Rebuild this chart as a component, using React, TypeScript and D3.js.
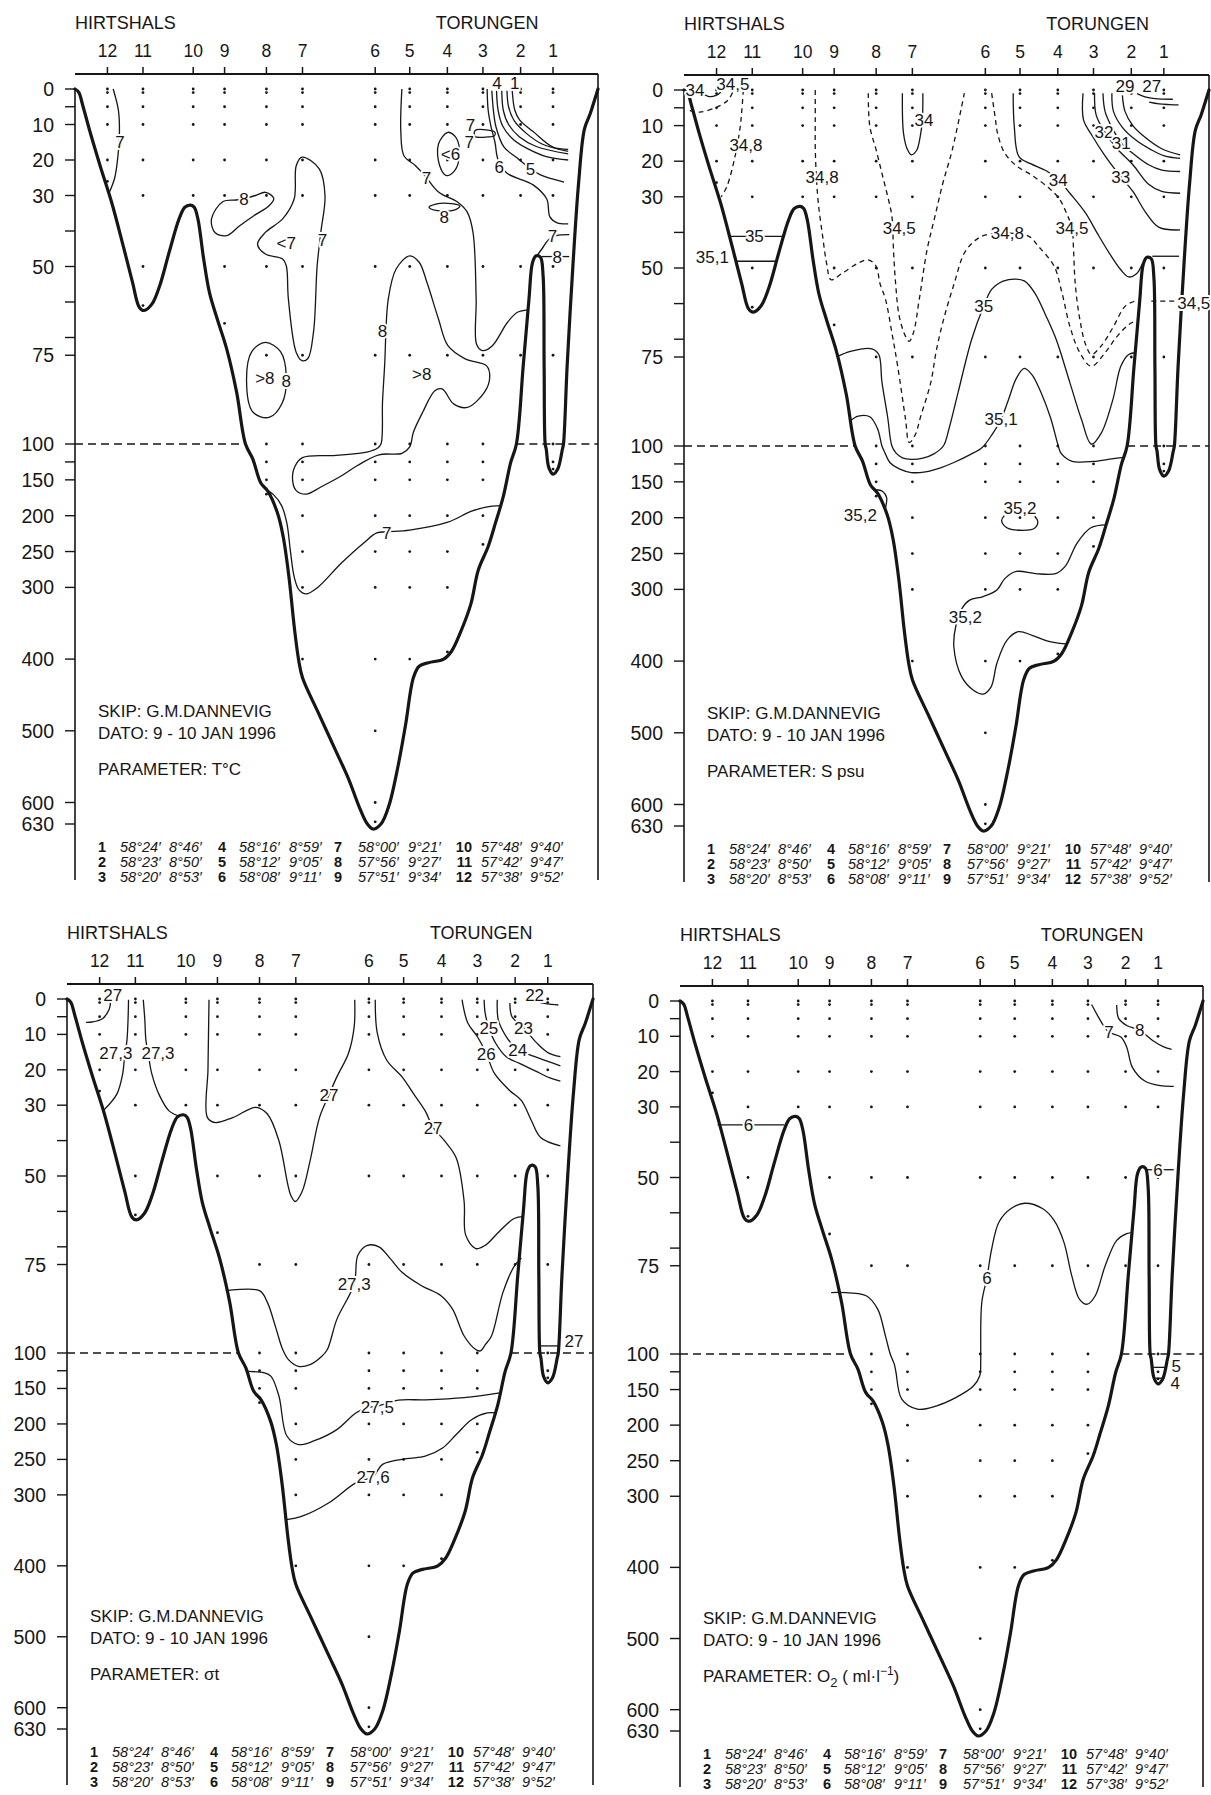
import React from "react";
import * as d3 from "d3";

type P = [number, number];
type Lbl = [string, number, number];
interface Contour { pts: P[]; dash?: boolean; closed?: boolean; labels?: Lbl[] }

// ---------- stations ----------
const stationNames = ["1", "2", "3", "4", "5", "6", "7", "8", "9", "10", "11", "12"];
const stationDist = [91.4, 85.2, 78.0, 71.2, 64.0, 57.4, 43.5, 36.6, 28.6, 22.6, 13.0, 6.2];
const stationDepths: number[][] = [
  [0, 1, 5, 10, 20, 30, 50, 75, 100, 125, 135],
  [0, 1, 5, 10, 20, 30, 50, 75],
  [0, 1, 5, 10, 20, 30, 50, 75, 100, 125, 150, 200, 240],
  [0, 1, 5, 10, 20, 30, 50, 75, 100, 125, 150, 200, 250, 300, 390],
  [0, 1, 5, 10, 20, 30, 50, 75, 100, 125, 150, 200, 250, 300, 400],
  [0, 1, 5, 10, 20, 30, 50, 75, 100, 125, 150, 200, 250, 300, 400, 500, 600, 627],
  [0, 1, 5, 10, 20, 30, 50, 75, 100, 125, 150, 200, 250, 300, 400],
  [0, 1, 5, 10, 20, 30, 50, 75, 100, 125, 150, 170],
  [0, 1, 5, 10, 20, 30, 50, 66],
  [0, 1, 5, 10, 20, 30],
  [0, 1, 5, 10, 20, 30, 50, 61],
  [0, 1, 5, 10, 20, 26],
];
const stationLat = ["58°24′", "58°23′", "58°20′", "58°16′", "58°12′", "58°08′", "58°00′", "57°56′", "57°51′", "57°48′", "57°42′", "57°38′"];
const stationLon = ["8°46′", "8°50′", "8°53′", "8°59′", "9°05′", "9°11′", "9°21′", "9°27′", "9°34′", "9°40′", "9°47′", "9°52′"];

const depthLabels = [0, 10, 20, 30, 50, 75, 100, 150, 200, 250, 300, 400, 500, 600, 630];
const depthMinor = [5, 40, 60, 70, 125];

// ---------- bottom profile (distance 0-100, depth m) ----------
const bathymetry: P[] = [
  [0, 0], [0.7, 0.9], [1.5, 4.7], [2.9, 12.2], [4.8, 21.6], [7, 31.9], [9.2, 44.1], [11, 54.5], [12.3, 61.5],
  [13.2, 62.4], [14.7, 60.6], [16.2, 55.4], [18, 46], [19.9, 36.6], [21, 33.3], [22.1, 32.7], [22.8, 33.3],
  [23.5, 36.6], [24.6, 47.9], [25.7, 57.3], [27.2, 64.8], [29, 73.2], [30.9, 85.4], [32.6, 100], [34, 121],
  [35.5, 154], [36.9, 166], [38.7, 196], [39.8, 229], [40.9, 285], [42, 360], [42.8, 403], [43.5, 426],
  [46.4, 473], [50, 530], [52.3, 567], [54.5, 609], [55.9, 630], [57, 637], [58.5, 630], [60, 605],
  [61.8, 548], [63.2, 492], [64.7, 426], [65.8, 410], [67.6, 405], [70.5, 400], [72, 389], [73.8, 361],
  [75.7, 323], [77.1, 276], [79, 243], [80.4, 210], [81.9, 173], [83.3, 126], [84.4, 100], [85.7, 78],
  [86.8, 59.2], [87.5, 48.8], [88.2, 47], [89, 47.4], [89.5, 52.6], [89.7, 78], [89.9, 100], [90.1, 107],
  [90.6, 133], [91.4, 142], [92.3, 135], [93.2, 107], [93.4, 100], [94.1, 78], [95.2, 49.8], [96.3, 26.3],
  [97.4, 11.3], [98.5, 7], [99.6, 1.9], [100, 0],
];

// ---------- temperature (°C) ----------
const tempLines: Contour[] = [
  { pts: [[7.3, 0], [8.3, 6], [8.5, 12], [8.2, 19], [7.6, 25], [6.6, 29]], labels: [["7", 8.6, 15]] },
  { closed: true, pts: [[26.1, 36.6], [28.3, 31.7], [31.2, 31.2], [34.5, 30], [36.4, 29.1], [38, 30.8], [37.1, 32.9], [34.2, 35.7], [31.5, 38.5], [29, 41.3], [26.8, 40.5]], labels: [["8", 32.3, 31]] },
  { closed: true, pts: [[43.4, 19.2], [46.7, 22.5], [47.8, 30], [47, 40.4], [46.3, 49.8], [45.6, 68.5], [44.5, 76], [43.4, 76.5], [42.3, 74.2], [40.8, 59.2], [40.4, 49.8], [39.7, 47.9], [36.4, 46.5], [34.9, 43.7], [36.4, 40.4], [39.7, 36.6], [41.9, 31], [42.3, 21.6]], labels: [["7", 47.3, 42.5], ["<7", 40.4, 43.4]] },
  { closed: true, pts: [[36.4, 71.4], [39.3, 74], [40.4, 81], [39.6, 88.5], [37.1, 92.5], [34, 91], [32.8, 82], [33.8, 74]], labels: [[">8", 36.3, 81.4], ["8", 40.4, 82.2]] },
  { pts: [[62.5, 0], [62.3, 12], [62.9, 18.8], [65.1, 21.6], [66.9, 24.4], [69.5, 29], [73.2, 31.9], [75, 34.7], [76.1, 40.4], [76.7, 59], [76.8, 72], [77.9, 73.7], [79.8, 72.3], [82.7, 65.7], [84.6, 62.9], [86.6, 62.2]], labels: [["7", 67.2, 25]] },
  { closed: true, pts: [[58.5, 100], [58.8, 88], [59.2, 78], [59.9, 59.2], [61.4, 50.7], [64, 47], [65.8, 48.8], [67.3, 54.5], [69.5, 64.8], [71.3, 72.3], [74.6, 76], [78.7, 78], [79.3, 81.2], [78.3, 85.4], [75, 89.7], [72.4, 88.7], [70.2, 84.5], [68.8, 85], [66.5, 91], [64.7, 96.7], [64, 104], [62.5, 113], [58.1, 115], [54, 130], [50.8, 145], [47, 160], [44.2, 170], [42.3, 165], [41.6, 150], [42, 132], [43.5, 119], [50, 116], [56, 111], [57.8, 106]], labels: [["8", 58.8, 68], [">8", 66.3, 80.3]] },
  { closed: true, pts: [[67.7, 33.3], [69, 32.4], [72, 32.3], [73.6, 33], [72.5, 34.1], [69, 34.2]], labels: [["8", 70.6, 35.9]] },
  { closed: true, pts: [[71.3, 12.2], [72.9, 13.8], [73.5, 18.5], [72.6, 23], [71, 24.4], [69.7, 21.5], [69.5, 15.5]], labels: [["<6", 71.8, 18.3]] },
  { closed: true, pts: [[76.5, 11.7], [79, 11.6], [80.3, 12.2], [80.2, 13.2], [79, 13.5], [76.5, 13.4]], labels: [["7", 75.6, 10.2], ["7", 75.4, 14.8]] },
  { pts: [[78.8, 0], [79, 6], [79.5, 10.3], [80.3, 15], [80.9, 20], [82.6, 23.7], [87.6, 27], [90.2, 31], [90.8, 36], [92.2, 37.7], [94.3, 38]], labels: [["6", 81.1, 21.8]] },
  { pts: [[79.7, 0.5], [80, 6], [80.5, 10.7], [82, 16.3], [84.5, 19.4], [87, 22.3], [89, 24.2], [93.5, 26.2]], labels: [["5", 87.1, 22.4]] },
  { pts: [[80.6, 0.5], [80.9, 6], [81.8, 10.5], [83.8, 14.2], [86.8, 17], [90.5, 19.2], [94.3, 20]], labels: [["4", 80.7, -1.8]] },
  { pts: [[81.6, 0.5], [81.9, 6], [82.9, 10], [85, 13.5], [88.2, 16.2], [94.3, 18.3]] },
  { pts: [[82.6, 0.5], [82.9, 5], [84, 9], [86.3, 12.5], [89.3, 15.5], [94.3, 17.6]] },
  { pts: [[83.6, 0.5], [84.1, 6], [85, 8.7], [87.6, 12], [91.4, 16.4], [94.3, 17]], labels: [["1", 84.1, -1.8]] },
  { pts: [[88.3, 47], [89.3, 45], [90.5, 42.5], [92, 41.3], [94.5, 41]], labels: [["7", 91.3, 41.4]] },
  { pts: [[89.2, 47.2], [94.5, 47.2]], labels: [["8", 92.2, 47.2]] },
  { pts: [[36.6, 164], [38, 171], [39.5, 186], [40.5, 210], [41.2, 250], [41.9, 285], [42.8, 303], [44.2, 309], [46.4, 300], [50.8, 267], [55.2, 238], [57.7, 224], [59.6, 222.5], [64, 220], [71.3, 209], [75.7, 194], [78.6, 188], [81.5, 186]], labels: [["7", 59.6, 224]] },
];

// ---------- salinity (psu) ----------
const salLines: Contour[] = [
  { pts: [[3.6, 1], [4.6, 1.8], [6, 1.6], [7, 0.6]], labels: [["34", 2.1, 0]] },
  { dash: true, pts: [[1.1, 5.8], [3, 6.2], [6.3, 4.8], [8.4, 2.8], [9.3, 0.5]], labels: [["34,5", 9.3, -1.6]] },
  { dash: true, pts: [[11.3, 0], [11, 6], [10.7, 10.4], [9.7, 18.8], [8.2, 27], [7.1, 30]], labels: [["34,8", 11.8, 15.5]] },
  { pts: [[8.7, 41.1], [19, 41.1]], labels: [["35", 13.4, 41.1]] },
  { pts: [[9.9, 48.1], [17.6, 48.1]], labels: [["35,1", 5.4, 46.8]] },
  { dash: true, pts: [[25, 0], [25, 8], [25, 16], [25.2, 24], [25.6, 32], [26.4, 41], [27.2, 49], [28, 53.3], [30.2, 51.4], [33.2, 48.6], [35.1, 47.7], [36.6, 49.5], [37.3, 54.2], [38.4, 58.9], [39.6, 68.2], [40.7, 77.6], [42.2, 92.5], [42.9, 99], [44, 97], [45.1, 91.6], [47, 82.2], [48.1, 72.9], [49.6, 63.6], [51.5, 54.2], [53.4, 45.8], [55.6, 42.1], [57.5, 40.7], [61.6, 40.2], [65.7, 41.1], [67.5, 43.9], [70.5, 49.5], [72, 57], [73.5, 66.4], [75.4, 73.8], [77.6, 77.6], [80.2, 73.8], [82.5, 69.2], [84.7, 65.9], [86.6, 64.5]], labels: [["34,8", 26.3, 24.3], ["34,8", 61.6, 40.2]] },
  { dash: true, pts: [[35.1, 0.9], [35.4, 10.3], [36.6, 16.8], [37.7, 23.4], [38.8, 29.9], [39.6, 35.5], [39.9, 44.9], [40.3, 54.2], [41, 63.6], [42.2, 69.2], [42.9, 70.6], [43.7, 68.2], [44.8, 58.9], [46.3, 44.9], [47.8, 35.5], [49.3, 26.2], [51.1, 16.8], [53.4, 0.9]], labels: [["34,5", 41, 38.8]] },
  { dash: true, pts: [[58.6, 0.9], [59.3, 8], [59.7, 12], [61, 17.5], [63.3, 21.3], [66.3, 24], [69.7, 27.8], [71.5, 30.6], [72.8, 34.4], [73.9, 38.8], [74.2, 45], [74.5, 54], [75.3, 63.6], [76.5, 71.5], [77.6, 74.3], [79.4, 72], [81.6, 67], [84.2, 60.5], [86.6, 59]], labels: [["34,5", 73.9, 38.8]] },
  { dash: true, pts: [[89, 59.3], [94.6, 59.3]], labels: [["34,5", 97.1, 59.8]] },
  { pts: [[41.6, 0.9], [41.8, 12], [42.5, 16.5], [43.3, 18.2], [44.3, 17], [45, 13], [45.4, 8.4], [45.5, 0.9]], labels: [["34", 45.7, 8.4]] },
  { pts: [[62.7, 0.9], [62.9, 10], [63.8, 18.7], [66, 20.7], [69, 22.7], [71.3, 25.2], [73.5, 29], [76.5, 34.6], [78.7, 40.2], [81, 45.8], [83.2, 50.5], [84.7, 52.5], [86.2, 51.6], [87.3, 48.8]], labels: [["34", 71.3, 25.2]] },
  { pts: [[89.2, 46.7], [94.3, 46.7]] },
  { pts: [[29.3, 74.8], [31.7, 73.4], [35.8, 72.7], [37.1, 74.3], [37.7, 82], [38.8, 92], [39.6, 100], [40.4, 110], [41.6, 116.5], [43.3, 118.7], [45.5, 117], [47.6, 111], [49.4, 100], [50.5, 95], [52.2, 85], [54.8, 70], [57.1, 60.7], [58.6, 56], [60.8, 53.7], [63.1, 53.1], [64.9, 53.7], [66.8, 57], [69, 63.6], [70.9, 70.1], [73.5, 82.2], [75.7, 92.5], [77.6, 99.5], [79.5, 96.3], [81.7, 86.9], [83.2, 77.6], [84.7, 74.3], [86.1, 73.8]], labels: [["35", 57.1, 60.7]] },
  { pts: [[31.6, 93], [33.2, 91.6], [35.4, 91.8], [36.9, 95.3], [37.7, 100], [38.3, 110], [39.2, 123], [41, 132], [43.3, 137], [46, 136], [49, 130], [51.4, 123], [54.5, 112], [56.8, 102], [58.8, 96.5], [60.4, 92.5], [61.8, 87], [63.3, 81], [64.8, 78.2], [66.3, 80], [68, 85], [69.8, 92], [71.3, 100], [71.8, 110], [73.8, 121], [78, 121.5], [81.5, 118], [83.8, 116]], labels: [["35,1", 60.4, 92.5]] },
  { pts: [[76, 0.9], [76.1, 8.4], [77.6, 12.5], [80.2, 18.5], [83, 24], [85.5, 28.5], [88, 34.5], [90.5, 38.6], [94.5, 39.3]], labels: [["33", 83.2, 24.3]] },
  { pts: [[78.2, 0.9], [78.5, 7], [80.1, 11.7], [82.5, 16.5], [85.5, 21], [88.5, 26.5], [91, 28.5], [94.5, 29]], labels: [["32", 80, 11.7]] },
  { pts: [[79.8, 0.9], [80.2, 6], [81.5, 10.5], [83.3, 14.9], [85.5, 17.8], [88.5, 21], [91, 22.5], [94.5, 22.9]], labels: [["31", 83.3, 14.9]] },
  { pts: [[81.5, 0.9], [81.8, 6], [83.5, 10.5], [86, 14], [89, 16.8], [91.5, 18.5], [94.5, 19.2]] },
  { pts: [[83.5, 1.5], [84, 6], [85.5, 10], [88, 13.5], [91, 16.5], [94.5, 18.2]], labels: [["29", 84, -1.2]] },
  { pts: [[88.6, 3.4], [90.5, 3.9], [92.5, 4.1], [94.2, 4.2]] },
  { pts: [[86.3, 1], [88, 2], [89.7, 2.4], [93.1, 2.6]], labels: [["27", 89.1, -1.2]] },
  { pts: [[36.6, 161], [37.8, 163], [38.6, 172], [38.5, 182], [38.3, 189]], labels: [["35,2", 33.6, 196]] },
  { pts: [[61, 197], [60.5, 204], [61.5, 214], [64, 217.5], [66.7, 215], [67.4, 206], [66.8, 198]], labels: [["35,2", 64, 187]] },
  { pts: [[80.4, 210], [77.5, 214], [74.9, 235], [72.6, 268], [70.8, 278], [67, 278], [63.3, 275], [61.1, 285], [59.6, 301], [57, 310], [54.4, 315], [52.9, 327], [51.8, 350], [51.4, 380], [52.9, 422], [55.2, 441], [57, 446], [58.5, 436], [59.6, 403], [61.5, 371], [63.7, 359], [66.3, 364], [69.3, 372], [72.7, 376]], labels: [["35,2", 53.6, 338]] },
];

// ---------- sigma-t ----------
const sigmaLines: Contour[] = [
  { pts: [[8.3, 0.2], [8, 3], [6.8, 5.5], [4.8, 6.5], [3.6, 6.6]], labels: [["27", 8.7, -1.2]] },
  { pts: [[11.7, 0.2], [11.6, 6], [11.4, 11.6], [10.9, 17], [10.6, 21], [9.5, 26.8], [7, 31.4]], labels: [["27,3", 9.3, 15.2]] },
  { pts: [[14.5, 0.2], [14.8, 6], [15, 11.6], [15.5, 16], [16.1, 21], [17.6, 27.3], [19.4, 31.6], [21.2, 33]], labels: [["27,3", 17.3, 15.2]] },
  { pts: [[27, 0.2], [26.9, 10], [26.8, 20], [26.7, 33.5], [28.2, 34.9], [31.5, 33.5], [35.9, 30.6], [38.1, 32.5], [40.3, 40.1], [42.5, 55.3], [43.4, 57.2], [44.7, 54.4], [46.2, 45.8], [48, 33.5], [49.8, 27.1], [51.3, 22], [53.5, 15.4], [54.6, 7.8], [54.7, 0.2]], labels: [["27", 49.8, 27.1]] },
  { pts: [[58.6, 0.2], [59, 9.7], [60.8, 17.3], [63.7, 22], [65.9, 26.8], [68.1, 31.6], [69.6, 36.3], [71.8, 40.1], [74, 44.9], [75.5, 57.2], [75.8, 66.7], [77.7, 70.5], [79.5, 69.6], [82.1, 65.8], [85, 62], [86.8, 61.5]], labels: [["27", 69.6, 36.3]] },
  { pts: [[75.1, 0.2], [76.2, 6.8], [78, 10.6], [79.7, 15.4], [81.3, 21.1], [84.2, 25.9], [86.4, 28.7], [88.3, 34.4], [90.1, 39.2], [93.8, 41.5]], labels: [["26", 79.7, 15.4]] },
  { pts: [[79.3, 0.2], [79.5, 4], [80.2, 8.1], [81.5, 12.5], [83.5, 16.3], [86, 18.2], [89, 20.3], [91.8, 22.3], [93.8, 23.2]], labels: [["25", 80.2, 8.1]] },
  { pts: [[81.8, 0.2], [82, 5.9], [83.5, 10.6], [85.7, 14.4], [88, 15.8], [91, 17.4], [93.8, 18.9]], labels: [["24", 85.7, 14.4]] },
  { pts: [[84.2, 1.1], [84.6, 5], [86.8, 8.1], [89.3, 12.4], [91.5, 15.2], [93.8, 16.3]], labels: [["23", 86.8, 8.1]] },
  { pts: [[89.4, 0.8], [91.3, 1.4], [93.4, 1.7]], labels: [["22", 88.9, -1.3]] },
  { pts: [[30.2, 82.4], [36.6, 82.4], [38.1, 85.7], [39.6, 92.4], [41, 99], [42.1, 109.4], [44, 118.8], [46.2, 116.4], [48.4, 105], [49.5, 99], [51.3, 90.5], [54.6, 80.5], [55.3, 72.4], [57.1, 69.6], [59.3, 70], [61.5, 73.4], [63.7, 77.2], [67.4, 81], [71.1, 83.8], [73.3, 87.6], [75.5, 95.2], [77.7, 99], [78.6, 99.4], [79.6, 97.5], [80.7, 95.2], [82.9, 82.8], [85.1, 75.3], [86.4, 73.2]], labels: [["27,3", 54.6, 80.5]] },
  { pts: [[89.9, 98], [93.5, 98]], labels: [["27", 96.4, 96.5]] },
  { pts: [[34.3, 126], [37.5, 128], [38.8, 133], [40.3, 161], [41.8, 217], [44, 229], [46.9, 224], [51.3, 208], [54.9, 184.5], [57, 177], [59, 175], [63, 166.5], [68.1, 166], [75.5, 163], [82.6, 156]], labels: [["27,5", 59, 176]] },
  { pts: [[41.7, 335], [44.7, 330], [49.8, 311], [54.9, 283], [58.2, 274], [60, 257], [64.5, 249], [68.1, 245.5], [71.4, 234], [74, 215], [76.9, 194], [79.9, 184.5], [81.6, 184.5]], labels: [["27,6", 58.2, 274]] },
];

// ---------- oxygen (ml/l) ----------
const oxyLines: Contour[] = [
  { pts: [[7.2, 35.1], [20, 35.1]], labels: [["6", 13.1, 35.1]] },
  { pts: [[78.7, 1], [79.8, 4], [81, 7], [82, 8.8], [84.3, 10.2], [85.4, 13], [86.5, 18.8], [88.8, 22.6], [91.8, 24], [94.4, 24.2]], labels: [["7", 82, 8.8]] },
  { pts: [[83.5, 1.1], [83.9, 5], [85.5, 7], [87.9, 8.3], [90.3, 11.1], [92.5, 13], [94, 13.7]], labels: [["8", 87.9, 8.3]] },
  { pts: [[28.9, 82.6], [35.6, 83.5], [37.8, 87.3], [39.3, 95], [40.2, 100], [41, 115], [41.3, 126], [42.4, 163.4], [45.4, 177.5], [49.1, 172.8], [52.8, 161], [56.1, 145], [57.3, 131], [57.5, 110], [57.5, 99], [57.7, 85.4], [58.7, 78.3], [59.6, 70.2], [61, 62.6], [63.3, 58.8], [65.9, 57.3], [69.3, 58.8], [71.5, 62.1], [73.4, 68.3], [74.9, 77.8], [76.4, 84.5], [77.9, 85.9], [79.4, 83.5], [81.3, 75], [83.5, 67.8], [85.4, 65.9], [86.5, 65.6]], labels: [["6", 58.7, 78.3]] },
  { pts: [[89.2, 47.8], [94.4, 47.8]], labels: [["6", 91.4, 47.8]] },
  { pts: [[90.5, 118.8], [93, 118.8]], labels: [["5", 94.9, 116]] },
  { pts: [[90.9, 134], [92.6, 134]], labels: [["4", 94.7, 141]] },
];

const parameterTexts = ["T°C", "S psu", "σt", "O2"];

// ---------- layout ----------
interface Cfg { key: string; x0: number; x1: number; y0: number; y100: number; y630: number; top: number; lines: Contour[]; param: string }
const panels: Cfg[] = [
  { key: "T", x0: 75, x1: 598, y0: 89, y100: 444, y630: 824, top: 74, lines: tempLines, param: parameterTexts[0] },
  { key: "S", x0: 684, x1: 1209, y0: 90, y100: 446, y630: 826, top: 75, lines: salLines, param: parameterTexts[1] },
  { key: "sig", x0: 67, x1: 593, y0: 999, y100: 1353, y630: 1729, top: 984, lines: sigmaLines, param: parameterTexts[2] },
  { key: "O", x0: 680, x1: 1203, y0: 1001, y100: 1354, y630: 1731, top: 986, lines: oxyLines, param: parameterTexts[3] },
];

const ink = "#161616";

function Panel({ cfg }: { cfg: Cfg }) {
  const x = d3.scaleLinear().domain([0, 100]).range([cfg.x0, cfg.x1]);
  const y = d3.scaleLinear().domain([0, 100, 630]).range([cfg.y0, cfg.y100, cfg.y630]);
  const open = d3.line<P>().x((d) => x(d[0])).y((d) => y(d[1])).curve(d3.curveCatmullRom.alpha(0.5));
  const closed = d3.line<P>().x((d) => x(d[0])).y((d) => y(d[1])).curve(d3.curveCatmullRomClosed.alpha(0.5));
  const bottomY = cfg.y630 + 56;
  const groupNumX = [31, 151, 267, 397];
  const groupLatX = [45, 164, 283, 406];
  const groupLonX = [94, 214, 333, 455];
  const rowOff = [28, 43, 58];

  let paramNode: React.ReactNode;
  if (cfg.param === "O2") {
    paramNode = (
      <>
        PARAMETER: O<tspan fontSize={13} dy={5}>2</tspan>
        <tspan dy={-5}> ( ml·l</tspan>
        <tspan fontSize={12} dy={-7}>−1</tspan>
        <tspan dy={7}>)</tspan>
      </>
    );
  } else {
    paramNode = <>PARAMETER: {cfg.param}</>;
  }

  return (
    <g>
      {/* header */}
      <text x={cfg.x0} y={cfg.top - 45} fontSize={18} fill={ink}>HIRTSHALS</text>
      <text x={x(69)} y={cfg.top - 45} fontSize={18} fill={ink}>TORUNGEN</text>
      {stationNames.map((s, i) => (
        <text key={"sn" + s} x={x(stationDist[i])} y={cfg.top - 17} fontSize={17.5} textAnchor="middle" fill={ink}>{s}</text>
      ))}
      <line x1={cfg.x0} x2={cfg.x1} y1={cfg.top} y2={cfg.top} stroke={ink} strokeWidth={2} />
      {stationDist.map((d, i) => (
        <line key={"st" + i} x1={x(d)} x2={x(d)} y1={cfg.top} y2={cfg.top - 7} stroke={ink} strokeWidth={1.5} />
      ))}

      {/* frame / depth axis */}
      <line x1={cfg.x0} x2={cfg.x0} y1={y(0)} y2={bottomY} stroke={ink} strokeWidth={1.6} />
      <line x1={cfg.x1} x2={cfg.x1} y1={cfg.top} y2={bottomY} stroke={ink} strokeWidth={1.6} />
      {depthLabels.concat(depthMinor).map((d) => (
        <line key={"tk" + d} x1={cfg.x0 - 10} x2={cfg.x0} y1={y(d)} y2={y(d)} stroke={ink} strokeWidth={1.4} />
      ))}
      {depthLabels.map((d) => (
        <text key={"dl" + d} x={cfg.x0 - 21} y={y(d)} dy="0.36em" fontSize={19.5} textAnchor="end" fill={ink}>{d}</text>
      ))}

      {/* scale break at 100 m */}
      <line x1={x(0)} x2={x(32.6)} y1={y(100)} y2={y(100)} stroke={ink} strokeWidth={1.5} strokeDasharray="8,5" />
      <line x1={x(84.4)} x2={x(100)} y1={y(100)} y2={y(100)} stroke={ink} strokeWidth={1.5} strokeDasharray="8,5" />

      {/* sample points */}
      {stationDepths.map((arr, i) =>
        arr.map((z) => <circle key={"p" + i + "_" + z} cx={x(stationDist[i])} cy={y(z)} r={1.4} fill={ink} />)
      )}

      {/* contours */}
      {cfg.lines.map((c, i) => (
        <path key={"c" + i} d={(c.closed ? closed : open)(c.pts) || ""} fill="none" stroke={ink} strokeWidth={1.3}
          strokeDasharray={c.dash ? "5,4" : undefined} strokeLinejoin="round" />
      ))}

      {/* bottom profile */}
      <path d={open(bathymetry) || ""} fill="none" stroke={ink} strokeWidth={3.2} strokeLinejoin="round" strokeLinecap="round" />

      {/* contour labels */}
      {cfg.lines.map((c, i) =>
        (c.labels || []).map((l, j) => (
          <text key={"l" + i + "_" + j} x={x(l[1])} y={y(l[2])} dy="0.36em" fontSize={17} textAnchor="middle"
            fill={ink} stroke="#fff" strokeWidth={4} paintOrder="stroke" strokeLinejoin="round">{l[0]}</text>
        ))
      )}

      {/* info text */}
      <text x={cfg.x0 + 23} y={cfg.y630 - 107} fontSize={17} fill={ink}>SKIP: G.M.DANNEVIG</text>
      <text x={cfg.x0 + 23} y={cfg.y630 - 85} fontSize={17} fill={ink}>DATO: 9 - 10 JAN 1996</text>
      <text x={cfg.x0 + 23} y={cfg.y630 - 49} fontSize={17} fill={ink}>{paramNode}</text>

      {/* station table */}
      {stationNames.map((s, i) => {
        const g = Math.floor(i / 3);
        const r = i % 3;
        const yy = cfg.y630 + rowOff[r];
        return (
          <g key={"tb" + i} fontSize={14.5} fill={ink}>
            <text x={cfg.x0 + groupNumX[g]} y={yy} textAnchor="end" fontWeight="bold">{s}</text>
            <text x={cfg.x0 + groupLatX[g]} y={yy} fontStyle="italic">{stationLat[i]}</text>
            <text x={cfg.x0 + groupLonX[g]} y={yy} fontStyle="italic">{stationLon[i]}</text>
          </g>
        );
      })}
    </g>
  );
}

export default function App() {
  return (
    <svg width={1211} height={1795} style={{ position: "absolute", left: 0, top: 0, background: "#fff" }}
      fontFamily="'Liberation Sans', Arial, sans-serif">
      <rect x={0} y={0} width={1211} height={1795} fill="#fff" />
      {panels.map((p) => <Panel key={p.key} cfg={p} />)}
    </svg>
  );
}
